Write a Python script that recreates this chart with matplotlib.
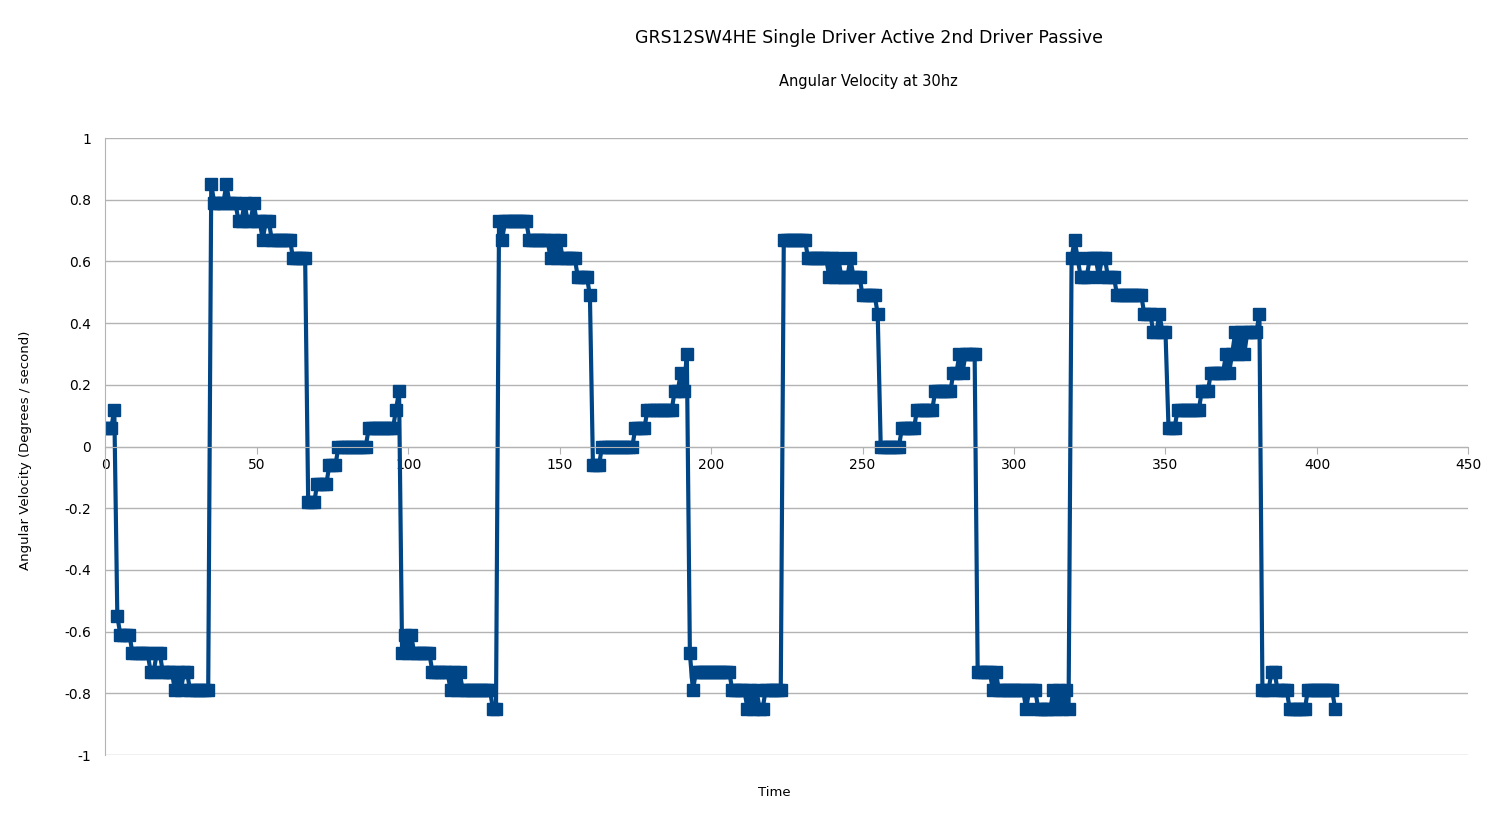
import matplotlib.pyplot as plt
import numpy as np

# angular velocity readings, stored as runs of (value, sample count)
runs = [
    (0.06, 3), (0.12, 1), (-0.55, 1), (-0.61, 4), (-0.67, 6), (-0.73, 2), (-0.67, 2),
    (-0.73, 4), (-0.79, 1), (-0.73, 1), (-0.79, 1), (-0.73, 2), (-0.79, 7),
    (0.85, 1), (0.79, 4), (0.85, 1), (0.79, 3), (0.73, 2), (0.79, 1), (0.73, 2), (0.79, 1),
    (0.73, 2), (0.67, 1), (0.73, 2), (0.67, 7), (0.61, 5),
    (-0.18, 3), (-0.12, 4), (-0.06, 3), (0.0, 10), (0.06, 9), (0.12, 1), (0.18, 1),
    (-0.67, 1), (-0.61, 1), (-0.67, 1), (-0.61, 1), (-0.67, 6), (-0.73, 6), (-0.79, 1),
    (-0.73, 1), (-0.79, 1), (-0.73, 1), (-0.79, 10), (-0.85, 2),
    (0.73, 1), (0.67, 1), (0.73, 8), (0.67, 7), (0.61, 1), (0.67, 1), (0.61, 1), (0.67, 1),
    (0.61, 5), (0.55, 4), (0.49, 1),
    (-0.06, 3), (0.0, 11), (0.06, 4), (0.12, 9), (0.18, 2), (0.24, 1), (0.18, 1), (0.30, 1),
    (-0.67, 1), (-0.79, 1), (-0.73, 12), (-0.79, 5), (-0.85, 1), (-0.79, 1), (-0.85, 1),
    (-0.79, 1), (-0.85, 2), (-0.79, 6),
    (0.67, 8), (0.61, 7), (0.55, 1), (0.61, 1), (0.55, 1), (0.61, 1), (0.55, 3), (0.61, 1),
    (0.55, 3), (0.49, 5), (0.43, 1),
    (0.0, 7), (0.06, 5), (0.12, 6), (0.18, 6), (0.24, 2), (0.30, 1), (0.24, 1), (0.30, 4),
    (-0.73, 5), (-0.79, 1), (-0.73, 1), (-0.79, 9), (-0.85, 1), (-0.79, 3), (-0.85, 5),
    (-0.79, 1), (-0.85, 1), (-0.79, 1), (-0.85, 1), (-0.79, 1), (-0.85, 1),
    (0.61, 1), (0.67, 1), (0.61, 1), (0.55, 3), (0.61, 3), (0.55, 1), (0.61, 2), (0.55, 3),
    (0.49, 9), (0.43, 3), (0.37, 2), (0.43, 1), (0.37, 2),
    (0.06, 3), (0.12, 8), (0.18, 3), (0.24, 5), (0.30, 1), (0.24, 1), (0.30, 1), (0.37, 1),
    (0.30, 1), (0.37, 1), (0.30, 1), (0.37, 4), (0.43, 1),
    (-0.79, 3), (-0.73, 2), (-0.79, 4), (-0.85, 6), (-0.79, 9), (-0.85, 1),
]

velocity = np.concatenate([np.full(n, v) for v, n in runs])
time = np.arange(len(velocity))

fig = plt.figure(figsize=(15.03, 8.19), dpi=100)
ax = fig.add_axes([0.07, 0.078, 0.907, 0.7535])

ax.plot(time, velocity, color='#004586', linewidth=3, marker='s', markersize=8)

ax.set_xlim(0, 450)
ax.set_ylim(-1, 1)
ax.set_xticks(np.arange(0, 451, 50))
ax.set_yticks(np.arange(-1, 1.01, 0.2))
ax.set_yticklabels(['-1', '-0.8', '-0.6', '-0.4', '-0.2', '0', '0.2', '0.4', '0.6', '0.8', '1'])
ax.grid(axis='y', color='#b3b3b3', linewidth=1)
ax.set_axisbelow(True)
for s in ax.spines.values():
    s.set_color('#b3b3b3')
ax.spines['bottom'].set_position(('data', 0))
ax.spines['top'].set_visible(False)
ax.spines['right'].set_visible(False)
ax.tick_params(axis='y', length=0, labelsize=10, pad=10)
ax.tick_params(axis='x', length=5, color='#b3b3b3', labelsize=10)

fig.text(0.578, 0.953, 'GRS12SW4HE Single Driver Active 2nd Driver Passive', ha='center', va='center', fontsize=12.5)
fig.text(0.578, 0.9, 'Angular Velocity at 30hz', ha='center', va='center', fontsize=10.5)
fig.text(0.515, 0.032, 'Time', ha='center', va='center', fontsize=9.5)
fig.text(0.017, 0.45, 'Angular Velocity (Degrees / second)', ha='center', va='center',
         rotation=90, fontsize=9.5)

fig.savefig('out.png', dpi=100)
